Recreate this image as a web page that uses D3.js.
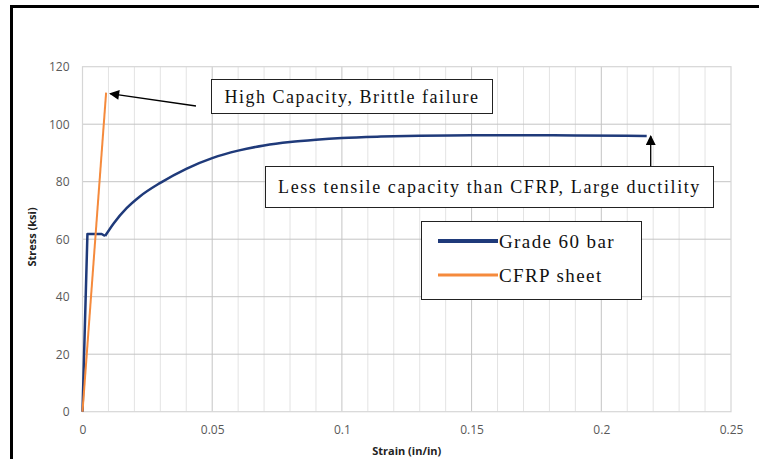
<!DOCTYPE html>
<html>
<head>
<meta charset="utf-8">
<script src="https://cdn.jsdelivr.net/npm/d3@7"></script>
<style>
  body { margin: 0; background: #fff; }
  svg { display: block; }
</style>
</head>
<body>
<svg id="chart" width="759" height="459"></svg>
<script>
// stress-strain readings
var gradeStrain = [0, 0.0019, 0.0074, 0.0087, 0.012, 0.017, 0.022, 0.03, 0.04, 0.05, 0.06, 0.07, 0.08, 0.09, 0.1, 0.115, 0.13, 0.15, 0.17, 0.19, 0.21, 0.2175];
var gradeStress = [0, 61.8, 61.8, 61.1, 65.5, 70.8, 74.8, 79.6, 84.5, 88.2, 90.8, 92.6, 93.8, 94.6, 95.2, 95.7, 96.0, 96.2, 96.2, 96.1, 96.0, 95.9];
var cfrpStrain = [0, 0.0091];
var cfrpStress = [0, 111];

var xTicks = [0, 0.05, 0.1, 0.15, 0.2, 0.25];
var yTicks = [0, 20, 40, 60, 80, 100, 120];
var seriesNames = ["Grade 60 bar", "CFRP sheet"];
var seriesColors = ["#1f3a7a", "#f58a3c"];

var svg = d3.select("#chart");

// outer frame
svg.append("rect")
    .attr("x", 11.5).attr("y", 6.5)
    .attr("width", 800).attr("height", 500)
    .attr("fill", "none")
    .attr("stroke", "#000")
    .attr("stroke-width", 3);

var plotL = 82.5, plotR = 731, plotT = 66.7, plotB = 411.7;

var x = d3.scaleLinear().domain([0, 0.25]).range([plotL, plotR]);
var y = d3.scaleLinear().domain([0, 120]).range([plotB, plotT]);

// minor vertical gridlines
var minor = d3.range(1, 25).map(function(i) { return i / 100; })
    .filter(function(v) { return Math.round(v * 100) % 5 != 0; });
svg.append("g").selectAll("line").data(minor).enter().append("line")
    .attr("x1", function(d) { return x(d); }).attr("x2", function(d) { return x(d); })
    .attr("y1", plotT).attr("y2", plotB)
    .attr("stroke", "#e3e3e3").attr("stroke-width", 1);

// major gridlines
svg.append("g").selectAll("line").data(xTicks.slice(1, -1)).enter().append("line")
    .attr("x1", function(d) { return x(d); }).attr("x2", function(d) { return x(d); })
    .attr("y1", plotT).attr("y2", plotB)
    .attr("stroke", "#c4c4c4").attr("stroke-width", 1);
svg.append("g").selectAll("line").data(yTicks.slice(1, -1)).enter().append("line")
    .attr("x1", plotL).attr("x2", plotR)
    .attr("y1", function(d) { return y(d); }).attr("y2", function(d) { return y(d); })
    .attr("stroke", "#c4c4c4").attr("stroke-width", 1);

// plot border
svg.append("rect")
    .attr("x", plotL).attr("y", plotT)
    .attr("width", plotR - plotL).attr("height", plotB - plotT)
    .attr("fill", "none").attr("stroke", "#d6d6d6").attr("stroke-width", 1.2);

// axes (labels only)
var xAxis = d3.axisBottom(x).tickValues(xTicks).tickSize(0).tickPadding(14)
    .tickFormat(function(d) { return d3.format("")(d); });
var yAxis = d3.axisLeft(y).tickValues(yTicks).tickSize(0).tickPadding(13);

var gx = svg.append("g").attr("transform", "translate(0," + plotB + ")").call(xAxis);
var gy = svg.append("g").attr("transform", "translate(" + plotL + ",0)").call(yAxis);
[gx, gy].forEach(function(g) {
    g.select(".domain").remove();
    g.selectAll("text")
        .attr("font-family", "Open Sans, sans-serif")
        .attr("font-size", 12)
        .attr("fill", "#595959");
});

// axis titles
svg.append("text")
    .attr("x", (plotL + plotR) / 2).attr("y", 455)
    .attr("text-anchor", "middle")
    .attr("font-family", "Open Sans, sans-serif")
    .attr("font-size", 11).attr("font-weight", "bold")
    .attr("fill", "#222")
    .text("Strain (in/in)");
svg.append("text")
    .attr("transform", "translate(36,237) rotate(-90)")
    .attr("text-anchor", "middle")
    .attr("font-family", "Open Sans, sans-serif")
    .attr("font-size", 11).attr("font-weight", "bold")
    .attr("fill", "#222")
    .text("Stress (ksi)");

// series lines
var line = d3.line()
    .x(function(d) { return x(d[0]); })
    .y(function(d) { return y(d[1]); })
    .curve(d3.curveMonotoneX);
var lineStraight = d3.line()
    .x(function(d) { return x(d[0]); })
    .y(function(d) { return y(d[1]); });

var gradeData = d3.zip(gradeStrain, gradeStress);
var cfrpData = d3.zip(cfrpStrain, cfrpStress);

// elastic + yield plateau straight, hardening part smooth
svg.append("path")
    .datum(gradeData.slice(0, 4))
    .attr("d", lineStraight)
    .attr("fill", "none").attr("stroke", seriesColors[0]).attr("stroke-width", 2.5)
    .attr("stroke-linejoin", "round");
svg.append("path")
    .datum(gradeData.slice(3))
    .attr("d", line)
    .attr("fill", "none").attr("stroke", seriesColors[0]).attr("stroke-width", 2.5);
svg.append("path")
    .datum(cfrpData)
    .attr("d", lineStraight)
    .attr("fill", "none").attr("stroke", seriesColors[1]).attr("stroke-width", 2);

// arrow marker
svg.append("defs").append("marker")
    .attr("id", "arrow")
    .attr("viewBox", "0 0 10 10")
    .attr("refX", 9).attr("refY", 5)
    .attr("markerWidth", 12).attr("markerHeight", 10)
    .attr("markerUnits", "userSpaceOnUse")
    .attr("orient", "auto")
    .append("path").attr("d", "M0,0 L10,5 L0,10 Z").attr("fill", "#000");

var serif = "Liberation Serif, Times New Roman, serif";

// annotation 1
svg.append("line")
    .attr("x1", 196).attr("y1", 106)
    .attr("x2", x(cfrpStrain[1]) + 4).attr("y2", y(cfrpStress[1]) + 1)
    .attr("stroke", "#000").attr("stroke-width", 1.3)
    .attr("marker-end", "url(#arrow)");
svg.append("rect")
    .attr("x", 211.5).attr("y", 79.5).attr("width", 281).attr("height", 34)
    .attr("fill", "#fff").attr("stroke", "#222").attr("stroke-width", 1);
svg.append("text")
    .attr("x", 352).attr("y", 103)
    .attr("text-anchor", "middle")
    .attr("font-family", serif)
    .attr("font-size", 18).attr("letter-spacing", 1.5).attr("fill", "#111")
    .text("High Capacity, Brittle failure");

// annotation 2
var endPt = gradeData[gradeData.length - 1];
svg.append("line")
    .attr("x1", x(endPt[0]) + 4).attr("y1", 166)
    .attr("x2", x(endPt[0]) + 4).attr("y2", y(endPt[1]))
    .attr("stroke", "#000").attr("stroke-width", 1.3)
    .attr("marker-end", "url(#arrow)");
svg.append("rect")
    .attr("x", 265.5).attr("y", 166.5).attr("width", 448).attr("height", 41)
    .attr("fill", "#fff").attr("stroke", "#222").attr("stroke-width", 1);
svg.append("text")
    .attr("x", 489.5).attr("y", 193)
    .attr("text-anchor", "middle")
    .attr("font-family", serif)
    .attr("font-size", 18).attr("letter-spacing", 1.6).attr("fill", "#111")
    .text("Less tensile capacity than CFRP, Large ductility");

// legend
var legend = svg.append("g");
legend.append("rect")
    .attr("x", 421.5).attr("y", 221.5).attr("width", 220).attr("height", 78)
    .attr("fill", "#fff").attr("stroke", "#222").attr("stroke-width", 1);
var items = legend.selectAll("g.item").data(seriesNames).enter().append("g")
    .attr("transform", function(d, i) { return "translate(0," + (241 + i * 34) + ")"; });
items.append("line")
    .attr("x1", 438).attr("x2", 498).attr("y1", 0).attr("y2", 0)
    .attr("stroke", function(d, i) { return seriesColors[i]; })
    .attr("stroke-width", function(d, i) { return i == 0 ? 4 : 3; });
items.append("text")
    .attr("x", 499).attr("y", 7)
    .attr("font-family", serif)
    .attr("font-size", 19).attr("letter-spacing", 1.4).attr("fill", "#111")
    .text(function(d) { return d; });
</script>
</body>
</html>
